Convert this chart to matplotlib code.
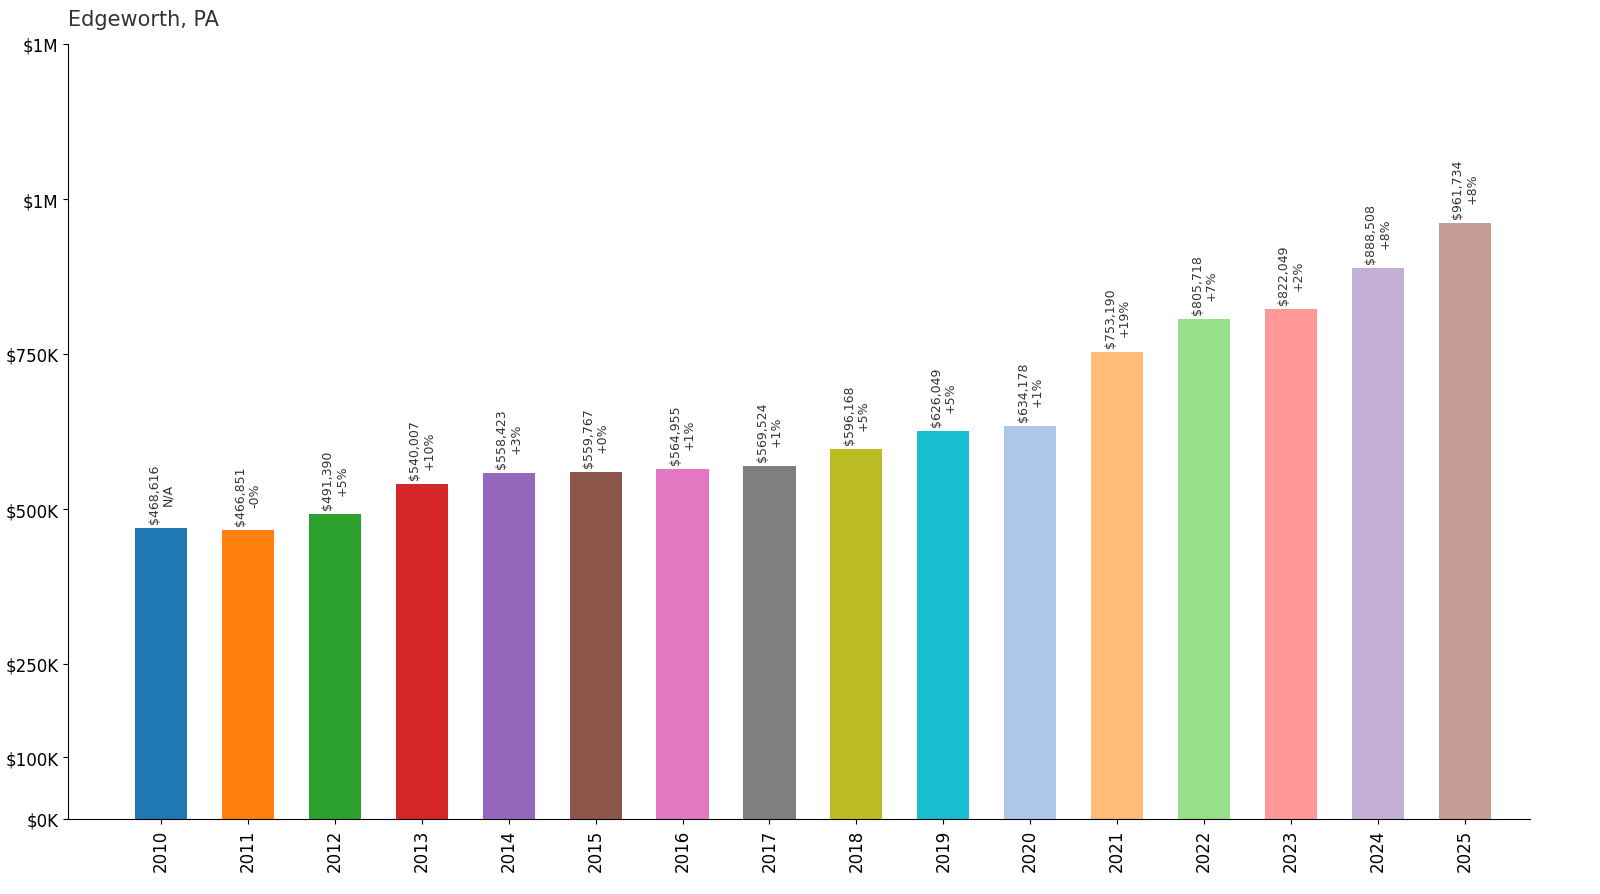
import matplotlib
matplotlib.use("Agg")
import matplotlib.pyplot as plt

years = [str(y) for y in range(2010, 2026)]
values = [468616, 466851, 491390, 540007, 558423, 559767, 564955, 569524,
          596168, 626049, 634178, 753190, 805718, 822049, 888508, 961734]
changes = ["N/A", "-0%", "+5%", "+10%", "+3%", "+0%", "+1%", "+1%",
           "+5%", "+5%", "+1%", "+19%", "+7%", "+2%", "+8%", "+8%"]
colors = ["#1f77b4", "#ff7f0e", "#2ca02c", "#d62728", "#9467bd", "#8c564b",
          "#e377c2", "#7f7f7f", "#bcbd22", "#17becf", "#aec7e8", "#ffbb78",
          "#98df8a", "#ff9896", "#c5b0d5", "#c49c94"]
yticks = [0, 100000, 250000, 500000, 750000, 1000000, 1250000]
yticklabels = ["$0K", "$100K", "$250K", "$500K", "$750K", "$1M", "$1M"]

fig = plt.figure(figsize=(16, 8.95), dpi=100)
ax = fig.add_axes([68/1600, 1-820/895, (1530-68)/1600, (820-45)/895])
x = range(len(years))
ax.bar(x, values, width=0.6, color=colors)
for i, (v, c) in enumerate(zip(values, changes)):
    ax.text(i, v + 8000, f"${v:,}\n{c}", rotation=90, ha="center", va="bottom",
            fontsize=9, color="#333333", linespacing=1.1)
ax.set_xlim(-1.07, 15.75)
ax.set_ylim(0, 1250000)
ax.set_xticks(list(x))
ax.set_xticklabels(years, rotation=90, fontsize=12)
ax.set_yticks(yticks)
ax.set_yticklabels(yticklabels, fontsize=12)
ax.spines["top"].set_visible(False)
ax.spines["right"].set_visible(False)
fig.text(68/1600, 1-20/895, "Edgeworth, PA", fontsize=15, color="#333333",
         ha="left", va="center")
fig.savefig("out.png", dpi=100)
